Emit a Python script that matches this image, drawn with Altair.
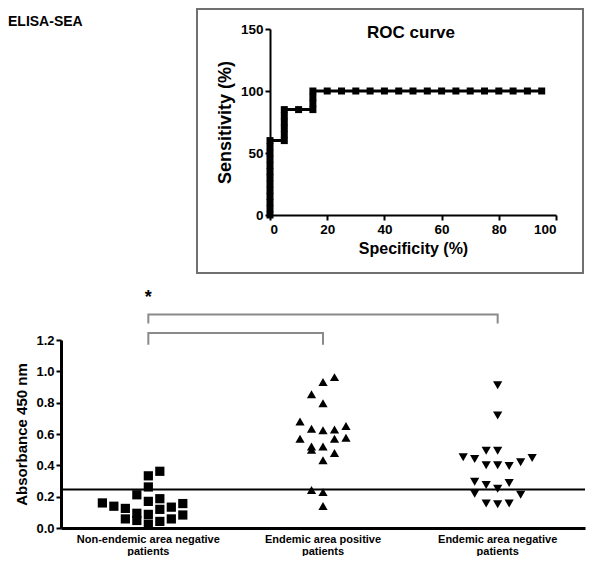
import altair as alt
import pandas as pd

FONT = "Liberation Sans"

# ---------------- ROC curve data ----------------
roc_specificity = [0, 0, 0, 0, 0, 0, 0, 0, 0, 0, 0, 0, 0,
                   5, 5, 5, 5, 5, 5,
                   10,
                   15, 15, 15, 15,
                   20, 25, 30, 35, 40, 45, 50, 55, 60, 65, 70, 75, 80, 85, 90, 95]
roc_sensitivity = [0, 5, 10, 15, 20, 25, 30, 35, 40, 45, 50, 55, 60,
                   60, 65, 70, 75, 80, 85,
                   85,
                   85, 90, 95, 100,
                   100, 100, 100, 100, 100, 100, 100, 100, 100, 100, 100, 100, 100, 100, 100, 100]
roc_x_ticks = [0, 20, 40, 60, 80, 100]
roc_y_ticks = [0, 50, 100, 150]

# ---------------- Scatter data ----------------
groups = ["Non-endemic area negative patients",
          "Endemic area positive patients",
          "Endemic area negative patients"]

g1_values = [0.160, 0.139, 0.125, 0.058, 0.212, 0.094, 0.048, 0.333, 0.262, 0.170,
             0.087, 0.025, 0.362, 0.187, 0.119, 0.042, 0.133, 0.058, 0.156, 0.083]
g1_cols = [-4, -3, -2, -2, -1, -1, -1, 0, 0, 0, 0, 0, 1, 1, 1, 1, 2, 2, 3, 3]

g2_values = [0.963, 0.932, 0.853, 0.797, 0.680, 0.634, 0.624, 0.628, 0.651, 0.570,
             0.570, 0.576, 0.520, 0.500, 0.520, 0.478, 0.433, 0.243, 0.229, 0.141]
g2_cols = [1, 0, -1, 0, -2, -1, 0, 1, 2, -2, 1, 2, -1, -1, 0, 1, 0, -1, 0, 0]

g3_values = [0.911, 0.718, 0.493, 0.493, 0.451, 0.441, 0.400, 0.400, 0.395, 0.420,
             0.447, 0.295, 0.275, 0.287, 0.250, 0.218, 0.212, 0.156, 0.152, 0.156]
g3_cols = [0, 0, -1, 0, -3, -2, -1, 0, 1, 2, 3, -2, -1, 1, 0, -2, 2, -1, 0, 1]

cutoff = 0.245
y_ticks = [0.0, 0.2, 0.4, 0.6, 0.8, 1.0, 1.2]

# significance brackets (group, height)
bracket_id = ["upper", "upper", "upper", "upper", "lower", "lower", "lower", "lower"]
bracket_group = [groups[0], groups[0], groups[2], groups[2], groups[0], groups[0], groups[1], groups[1]]
bracket_value = [1.306, 1.362, 1.362, 1.306, 1.170, 1.244, 1.244, 1.170]
bracket_order = [0, 1, 2, 3, 0, 1, 2, 3]
star_group = [groups[0]]
star_value = [1.47]

# ---------------- ROC chart ----------------
roc_df = pd.DataFrame({"spec": roc_specificity, "sens": roc_sensitivity,
                       "i": list(range(len(roc_specificity)))})
one = pd.DataFrame({"a": [0]})

xr = alt.X("spec:Q", scale=alt.Scale(domain=[0, 100], nice=False, range=[209, 495]),
           axis=alt.Axis(values=roc_x_ticks, title="Specificity (%)", titleFontSize=16,
                         labelFontSize=13.5, tickSize=5, tickWidth=2, domainWidth=2,
                         titlePadding=5, labelPadding=2))
yr = alt.Y("sens:Q", scale=alt.Scale(domain=[0, 150], nice=False),
           axis=alt.Axis(values=roc_y_ticks, title="Sensitivity (%)", titleFontSize=18,
                         labelFontSize=13.5, tickSize=5, tickWidth=2, domainWidth=2,
                         titlePadding=6, labelPadding=2, offset=-209))

roc_line = alt.Chart(roc_df).mark_line(color="black", strokeWidth=3).encode(
    x=xr, y=yr, order="i:Q")
roc_pts = alt.Chart(roc_df).mark_point(shape="square", filled=True, color="black",
                                       size=49, opacity=1).encode(x=xr, y=yr)
frame = alt.Chart(one).mark_rect(fillOpacity=0, stroke="#707070", strokeWidth=2).encode(
    x=alt.value(136), x2=alt.value(522), y=alt.value(-20), y2=alt.value(244))
elisa = alt.Chart(one).mark_text(text="ELISA-SEA", align="left", baseline="top", font=FONT,
                                 fontSize=14, fontWeight="bold", color="black").encode(
    x=alt.value(-53), y=alt.value(-14))
roc_title = alt.Chart(one).mark_text(text="ROC curve", align="center", baseline="middle",
                                     font=FONT, fontSize=17, fontWeight="bold",
                                     color="black").encode(x=alt.value(350), y=alt.value(4))

roc = alt.layer(frame, roc_line, roc_pts, elisa, roc_title).properties(width=524, height=186)

# ---------------- Scatter chart ----------------
pts_df = pd.DataFrame({
    "group": [groups[0]] * len(g1_values) + [groups[1]] * len(g2_values) + [groups[2]] * len(g3_values),
    "value": g1_values + g2_values + g3_values,
    "col": g1_cols + g2_cols + g3_cols,
})
br_df = pd.DataFrame({"id": bracket_id, "group": bracket_group, "value": bracket_value,
                      "o": bracket_order})
star_df = pd.DataFrame({"group": star_group, "value": star_value})
cut_df = pd.DataFrame({"value": [cutoff]})

x_enc = alt.X("group:N", scale=alt.Scale(domain=groups, paddingInner=0, paddingOuter=0),
              axis=alt.Axis(title=None, ticks=False, domainWidth=3, labelAngle=0,
                            labelFontSize=11, labelPadding=5, labelLimit=250,
                            labelBaseline="top", labelLineHeight=12,
                            labelExpr="[replace(datum.label, ' patients', ''), 'patients']"))
y_enc = alt.Y("value:Q", scale=alt.Scale(domain=[0, 1.2], nice=False),
              axis=alt.Axis(values=y_ticks, format=".1f", title="Absorbance 450 nm",
                            titleFontSize=15, labelFontSize=13, tickSize=5, tickWidth=2,
                            domainWidth=3, titlePadding=6, labelPadding=2))

points = alt.Chart(pts_df).mark_point(filled=True, color="black", size=85, opacity=1).encode(
    x=x_enc,
    xOffset=alt.XOffset("col:Q", scale=alt.Scale(domain=[-7.6, 7.6])),
    y=y_enc,
    shape=alt.Shape("group:N", scale=alt.Scale(domain=groups,
                                               range=["square", "triangle-up", "triangle-down"]),
                    legend=None))
cut = alt.Chart(cut_df).mark_rule(color="black", strokeWidth=2).encode(y=y_enc)
brackets = alt.Chart(br_df).mark_line(color="#8a8a8a", strokeWidth=2).encode(
    x=x_enc, y=y_enc, detail="id:N", order="o:Q")
star = alt.Chart(star_df).mark_text(text="*", font=FONT, fontSize=18, fontWeight="bold",
                                    color="black", baseline="middle").encode(x=x_enc, y=y_enc)

bottom = alt.layer(brackets, star, cut, points).properties(width=524, height=188)

chart = alt.vconcat(roc, bottom, spacing=14).properties(padding=0).configure_view(
    stroke=None).configure_axis(
    labelFont=FONT, titleFont=FONT, labelFontWeight="bold", titleFontWeight="bold",
    labelColor="black", titleColor="black", domainColor="black", tickColor="black", grid=False)

chart.save("out.html", embed_options={"renderer": "svg", "actions": False})
